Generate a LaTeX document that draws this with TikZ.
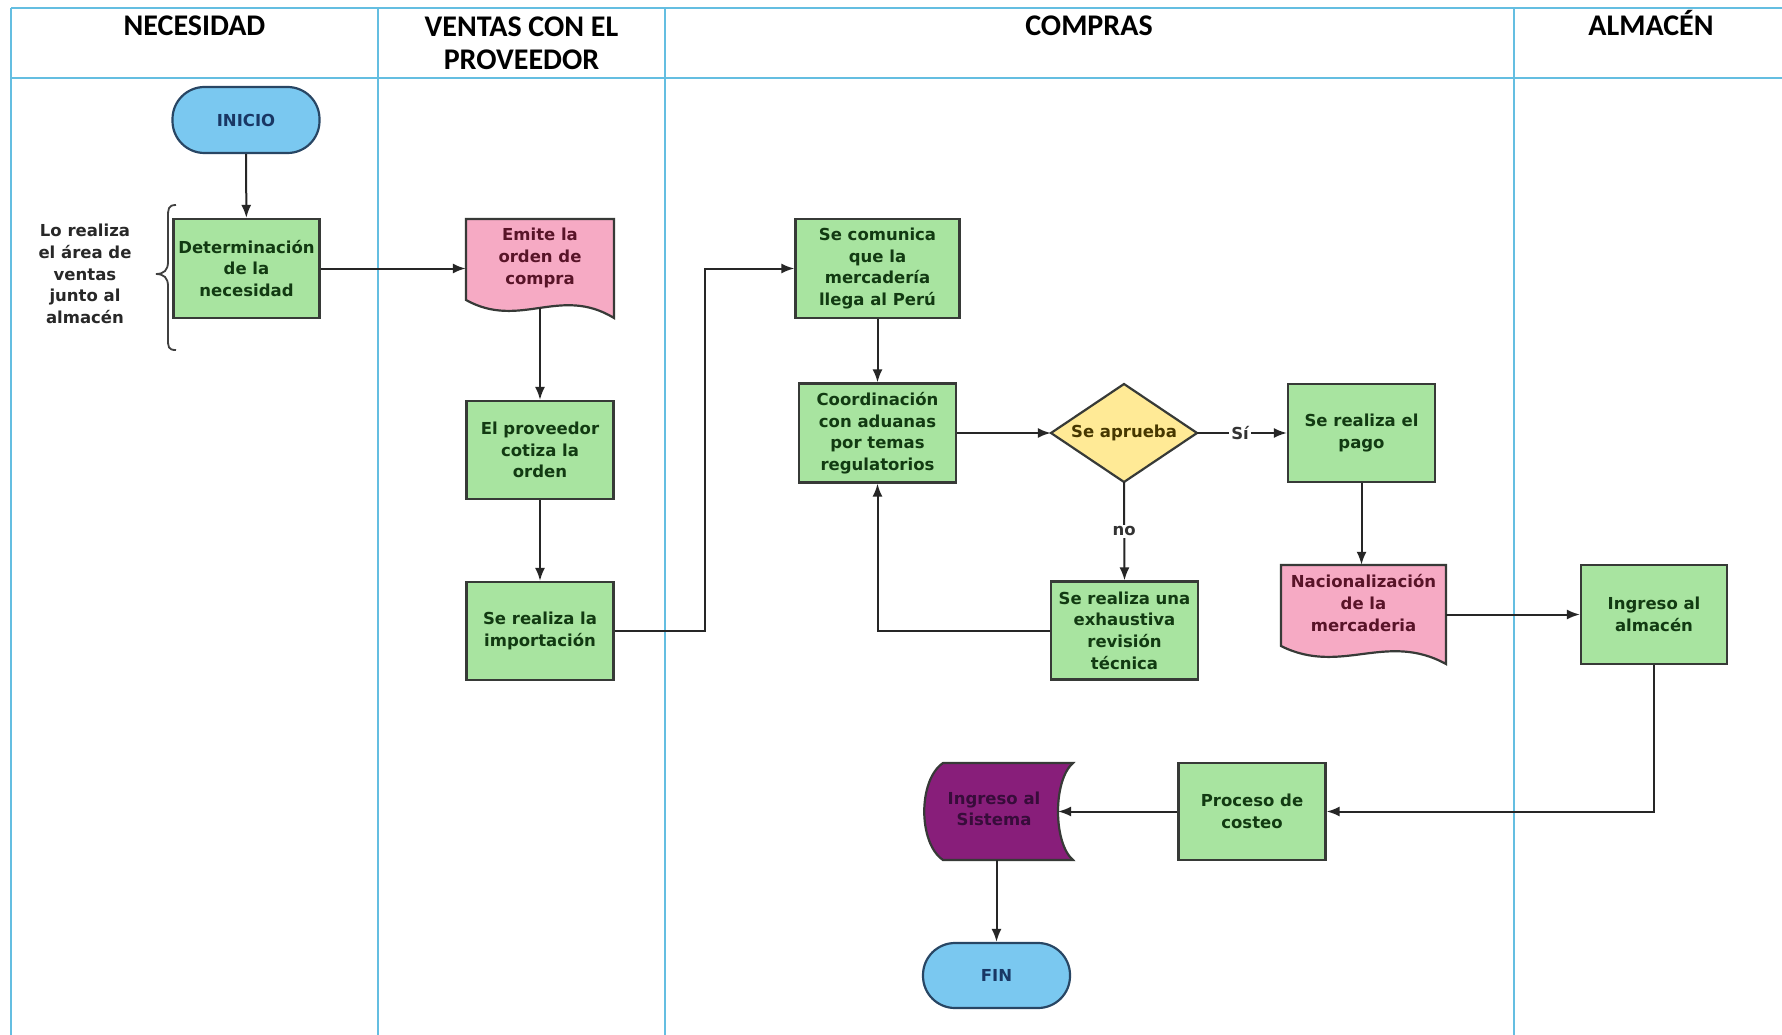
\documentclass[tikz,border=0pt]{standalone}
\usepackage{fontspec}
\newfontfamily\boxfont{DejaVu Sans}
\newfontfamily\headfont{Carlito}
\usetikzlibrary{arrows.meta}

\definecolor{lanecol}{RGB}{100,190,225}
\definecolor{boxline}{RGB}{55,58,55}
\definecolor{procfill}{RGB}{168,228,160}
\definecolor{proctext}{RGB}{18,58,18}
\definecolor{docfill}{RGB}{246,170,196}
\definecolor{doctext}{RGB}{88,20,40}
\definecolor{decfill}{RGB}{255,234,150}
\definecolor{dectext}{RGB}{70,55,0}
\definecolor{termfill}{RGB}{122,200,240}
\definecolor{termline}{RGB}{40,70,100}
\definecolor{termtext}{RGB}{25,55,100}
\definecolor{datafill}{RGB}{136,30,122}
\definecolor{datatext}{RGB}{55,12,58}
\definecolor{notetext}{RGB}{40,40,40}

\tikzset{
  lane/.style={draw=lanecol, line width=2.2pt},
  headtxt/.style={font=\headfont\bfseries\fontsize{30}{33}\selectfont, align=center, inner sep=0pt},
  txt/.style={font=\boxfont\bfseries\fontsize{16.5}{21.6}\selectfont, align=center, inner sep=1pt},
  procbox/.style={txt, draw=boxline, fill=procfill, text=proctext, line width=2.2pt,
                  minimum width=147pt, minimum height=98pt},
  termbox/.style={txt, draw=termline, fill=termfill, text=termtext, line width=2.2pt,
                  rounded corners=32pt, minimum width=147pt, minimum height=66pt},
  shapeline/.style={draw=boxline, line width=2.2pt},
  arr/.style={draw=black!85, line width=2pt, -{Latex[length=13pt,width=10pt]}},
  flowlabel/.style={txt, fill=white, inner sep=2pt, text=black!80},
}

\begin{document}
\begin{tikzpicture}[x=1pt,y=-1pt]
\useasboundingbox (0,0) rectangle (1782,1035);
\fill[white] (0,0) rectangle (1782,1035);

% swimlane frame
\draw[lane] (11,8) -- (1782,8);
\draw[lane] (11,78) -- (1782,78);
\foreach \lx in {11,378,665,1514} \draw[lane] (\lx,8) -- (\lx,1035);

% lane titles
\node[headtxt, anchor=base] (hNec) at (194.5,36) {NECESIDAD};
\node[headtxt] (hVen) at (521.5,43) {VENTAS CON EL\\PROVEEDOR};
\node[headtxt, anchor=base] (hCom) at (1089,36) {COMPRAS};
\node[headtxt, anchor=base] (hAlm) at (1651,36) {ALMACÉN};

% ---- NECESIDAD lane
\node[termbox] (ini) at (246,120) {INICIO};
\node[procbox, minimum width=146pt, minimum height=99pt] (det) at (246.5,268.5) {Determinación\\de la\\necesidad};
\node[txt, text=notetext] (nota) at (85,274) {Lo realiza\\el área de\\ventas\\junto al\\almacén};
\draw[line width=1.8pt, draw=black!75] (176,205) .. controls (168,205) and (168,209) .. (168,218)
  -- (168,262) .. controls (168,270) and (164,274) .. (156,274)
  .. controls (164,274) and (168,278) .. (168,286)
  -- (168,338) .. controls (168,347) and (168,350) .. (176,350);

% ---- VENTAS CON EL PROVEEDOR lane
\filldraw[shapeline, fill=docfill] (466,219) -- (614,219) -- (614,318)
  .. controls (560,285) and (520,330) .. (466,300) -- cycle;
\node[minimum width=148pt, minimum height=89pt, inner sep=0pt] (emite) at (540,263.5) {};
\node[txt, text=doctext] (emitetxt) at (540,258) {Emite la\\orden de\\compra};
\node[procbox] (cot) at (540,450) {El proveedor\\cotiza la\\orden};
\node[procbox] (imp) at (540,631) {Se realiza la\\importación};

% ---- COMPRAS lane
\node[procbox, minimum width=164pt, minimum height=99pt] (com) at (877.5,268.5) {Se comunica\\que la\\mercadería\\llega al Perú};
\node[procbox, minimum width=157pt, minimum height=99pt] (coo) at (877.5,433) {Coordinación\\con aduanas\\por temas\\regulatorios};
\filldraw[shapeline, fill=decfill] (1051,433) -- (1124,384) -- (1197,433) -- (1124,482) -- cycle;
\node[txt, text=dectext, minimum width=146pt, minimum height=98pt] (dec) at (1124,433) {Se aprueba};
\node[procbox] (rev) at (1124.5,630.5) {Se realiza una\\exhaustiva\\revisión\\técnica};
\node[procbox] (pago) at (1361.5,433) {Se realiza el\\pago};
\filldraw[shapeline, fill=docfill] (1281,565) -- (1446,565) -- (1446,664)
  .. controls (1386,631) and (1341,676) .. (1281,646) -- cycle;
\node[minimum width=165pt, minimum height=89pt, inner sep=0pt] (nac) at (1363.5,609.5) {};
\node[txt, text=doctext] (nactxt) at (1363.5,603) {Nacionalización\\de la\\mercaderia};
\node[procbox, minimum height=97pt] (cost) at (1252,811.5) {Proceso de\\costeo};
\filldraw[shapeline, fill=datafill] (943,763) -- (1073,763)
  .. controls (1053,780) and (1053,843) .. (1073,860) -- (943,860)
  .. controls (918,843) and (918,780) .. (943,763) -- cycle;
\node[minimum width=150pt, minimum height=97pt, inner sep=0pt] (sis) at (996.5,811.5) {};
\node[txt, text=datatext] (sistxt) at (994,809) {Ingreso al\\Sistema};
\coordinate (sisin) at (1058,811.5);
\node[termbox, minimum height=65pt] (fin) at (996.5,975.5) {FIN};

% ---- ALMACÉN lane
\node[procbox, minimum width=146pt, minimum height=99pt] (alm) at (1654,614.5) {Ingreso al\\almacén};

% ---- connectors
\coordinate (bendimp) at (705,450);
\draw[arr] (ini) -- (det);
\draw[arr] (det.east) -- (det.east -| emite.west);
\draw[arr] (emite.south) -- (cot.north);
\draw[arr] (cot) -- (imp);
\draw[arr] (imp.east) -- (imp.east -| bendimp) -- (bendimp |- com.west) -- (com.west);
\draw[arr] (com) -- (coo);
\draw[arr] (coo.east) -- (dec.west);
\draw[arr] (dec.east) -- node[flowlabel, xshift=-2pt] {Sí} (pago.west);
\draw[arr] (dec.south) -- node[flowlabel] {no} (rev.north);
\draw[arr] (rev.west) -| (coo.south);
\draw[arr] (pago.south) -- (pago.south |- nac.north);
\draw[arr] (nac.east |- alm.west) -- (alm.west);
\draw[arr] (alm.south) |- (cost.east);
\draw[arr] (cost.west) -- (sisin);
\draw[arr] (sis.south) -- (fin.north);
\end{tikzpicture}
\end{document}
